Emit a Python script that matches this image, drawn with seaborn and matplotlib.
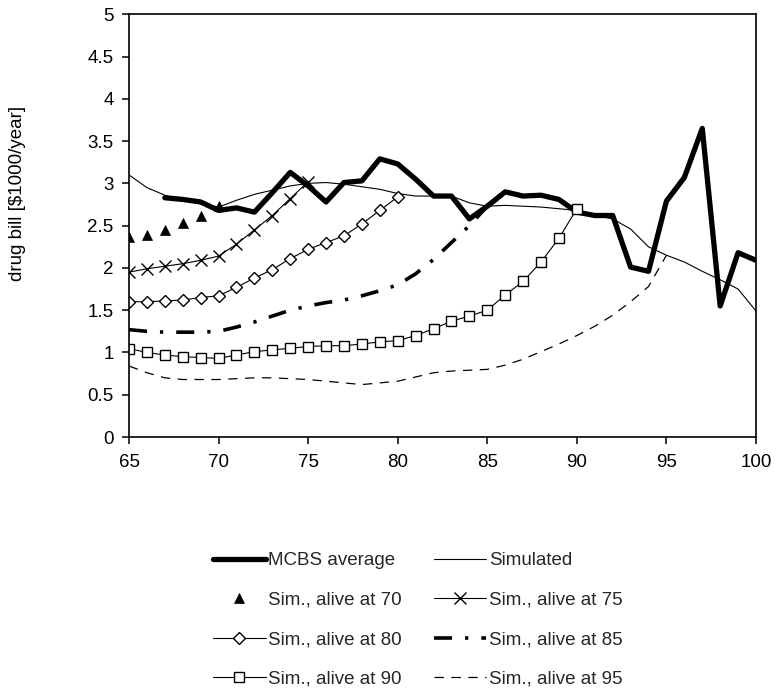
import numpy as np
import pandas as pd
import matplotlib
matplotlib.use("Agg")
import matplotlib.pyplot as plt
from matplotlib.ticker import FuncFormatter, MultipleLocator
import seaborn as sns

# ---------------- data ----------------
ages_mcbs = list(range(67, 101))
mcbs_avg = [2.83, 2.81, 2.78, 2.68, 2.71, 2.66, 2.89, 3.13, 2.97, 2.78,
            3.01, 3.03, 3.29, 3.23, 3.05, 2.85, 2.85, 2.58, 2.73, 2.90,
            2.85, 2.86, 2.81, 2.66, 2.62, 2.62, 2.01, 1.96, 2.79, 3.07,
            3.65, 1.55, 2.18, 2.09]

ages_sim = list(range(65, 101))
simulated = [3.10, 2.95, 2.86, 2.80, 2.76, 2.72, 2.80, 2.87, 2.92, 2.97,
             3.00, 3.01, 2.99, 2.96, 2.93, 2.88, 2.85, 2.85, 2.85, 2.77,
             2.73, 2.74, 2.73, 2.72, 2.70, 2.68, 2.62, 2.58, 2.46, 2.25,
             2.15, 2.07, 1.96, 1.86, 1.75, 1.49]

ages_70 = list(range(65, 71))
sim_70 = [2.36, 2.39, 2.45, 2.53, 2.62, 2.73]

ages_75 = list(range(65, 76))
sim_75 = [1.95, 1.99, 2.02, 2.05, 2.09, 2.14, 2.28, 2.45, 2.62, 2.82, 3.02]

ages_80 = list(range(65, 81))
sim_80 = [1.60, 1.60, 1.61, 1.62, 1.65, 1.67, 1.77, 1.88, 1.98, 2.11,
          2.22, 2.30, 2.38, 2.52, 2.68, 2.84]

ages_85 = list(range(65, 86))
sim_85 = [1.27, 1.25, 1.24, 1.24, 1.24, 1.25, 1.30, 1.36, 1.43, 1.50,
          1.55, 1.59, 1.62, 1.67, 1.73, 1.80, 1.93, 2.10, 2.30, 2.50, 2.73]

ages_90 = list(range(65, 91))
sim_90 = [1.045, 1.00, 0.97, 0.95, 0.94, 0.93, 0.97, 1.01, 1.03, 1.05,
          1.07, 1.08, 1.08, 1.10, 1.125, 1.14, 1.20, 1.28, 1.37, 1.43,
          1.50, 1.68, 1.84, 2.07, 2.35, 2.70]

ages_95 = list(range(65, 96))
sim_95 = [0.84, 0.76, 0.70, 0.68, 0.68, 0.68, 0.69, 0.70, 0.70, 0.69,
          0.68, 0.66, 0.64, 0.62, 0.64, 0.66, 0.71, 0.76, 0.78, 0.79,
          0.80, 0.85, 0.92, 1.01, 1.10, 1.20, 1.31, 1.44, 1.60, 1.78, 2.15]

x_ticks = [65, 70, 75, 80, 85, 90, 95, 100]
y_label = "drug bill [$1000/year]"
labels = {
    "mcbs": "MCBS average", "sim": "Simulated",
    "70": "Sim., alive at 70", "75": "Sim., alive at 75",
    "80": "Sim., alive at 80", "85": "Sim., alive at 85",
    "90": "Sim., alive at 90", "95": "Sim., alive at 95",
}

# ---------------- style ----------------
sns.set_theme(style="ticks")
plt.rcParams["font.family"] = ["Liberation Sans", "DejaVu Sans"]
FS = 13.5
plt.rcParams["font.size"] = FS

fig = plt.figure(figsize=(7.76, 6.91), dpi=100)
ax = fig.add_axes([129 / 776, 1 - 437 / 691, (756 - 129) / 776, (437 - 14.3) / 691])

K = "black"
common = dict(ax=ax, color=K, errorbar=None, legend=False)

sns.lineplot(x=ages_95, y=sim_95, linewidth=0.9, linestyle=(0, (7.5, 6)),
             label=labels["95"], **common)
sns.lineplot(x=ages_sim, y=simulated, linewidth=0.8, label=labels["sim"], **common)
sns.lineplot(x=ages_85, y=sim_85, linewidth=2.6, linestyle=(0, (5, 3.6, 0.9, 3.6)),
             label=labels["85"], **common)
sns.lineplot(x=ages_mcbs, y=mcbs_avg, linewidth=3.8, label=labels["mcbs"], **common)
sns.lineplot(x=ages_70, y=sim_70, linestyle="none", marker="^", markersize=7.5,
             markerfacecolor=K, markeredgecolor=K, markeredgewidth=0.5,
             label=labels["70"], **common)
sns.lineplot(x=ages_75, y=sim_75, linewidth=0.8, marker="x", markersize=8,
             markeredgecolor=K, markeredgewidth=1.0, label=labels["75"], **common)
sns.lineplot(x=ages_80, y=sim_80, linewidth=0.8, marker="D", markersize=6.5,
             markerfacecolor="white", markeredgecolor=K, markeredgewidth=1.0,
             label=labels["80"], **common)
sns.lineplot(x=ages_90, y=sim_90, linewidth=0.8, marker="s", markersize=7.5,
             markerfacecolor="white", markeredgecolor=K, markeredgewidth=1.0,
             label=labels["90"], **common)

ax.set_xlim(65, 100)
ax.set_ylim(0, 5)
ax.set_xticks(x_ticks)
ax.yaxis.set_major_locator(MultipleLocator(0.5))
ax.yaxis.set_major_formatter(FuncFormatter(lambda v, p: f"{v:g}"))
ax.set_xlabel("")
ax.set_ylabel("")
for s in ax.spines.values():
    s.set_visible(True)
    s.set_linewidth(1.2)
    s.set_color(K)
ax.tick_params(axis="both", direction="out", length=5, width=1.1, color=K,
               labelsize=FS, labelcolor=K)
ax.tick_params(axis="y", pad=6)
ax.tick_params(axis="x", pad=7)
ax.grid(False)

fig.text(17.5 / 776, 1 - 193 / 691, y_label, rotation=90, ha="center",
         va="center", fontsize=FS, color=K)

# legend: column-major order
h, l = ax.get_legend_handles_labels()
hm = dict(zip(l, h))
order = ["mcbs", "70", "80", "90", "sim", "75", "85", "95"]
leg = fig.legend([hm[labels[k]] for k in order], [labels[k] for k in order],
                 ncol=2, loc="upper left", bbox_to_anchor=(213 / 776, 1 - 552 / 691),
                 frameon=False, borderaxespad=0, borderpad=0, fontsize=FS,
                 handlelength=2.8, handletextpad=0.15, columnspacing=1.7,
                 labelspacing=1.2, numpoints=1)

fig.savefig("out.png", dpi=100)
